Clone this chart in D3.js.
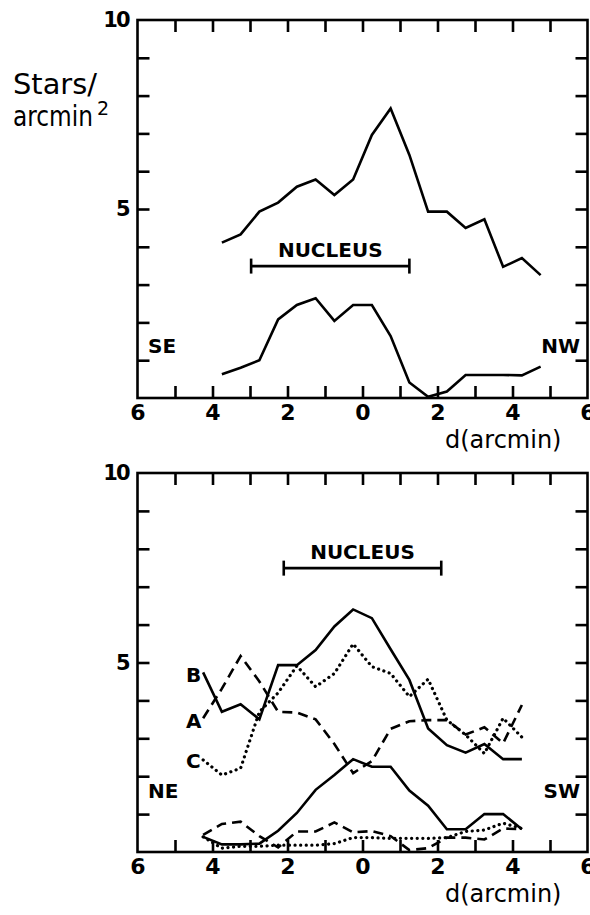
<!DOCTYPE html>
<html>
<head>
<meta charset="utf-8">
<script src="https://cdn.jsdelivr.net/npm/d3@7"></script>
<style>
  html, body { margin: 0; padding: 0; background: #fff; }
  svg { display: block; }
</style>
</head>
<body>
<svg id="chart" width="590" height="915"></svg>
<script>
// ---------------- DATA ----------------
// x tick labels (absolute distance from centre, arcmin)
const xTickValues = [-6, -4, -2, 0, 2, 4, 6];
const xTickLabels = ["6", "4", "2", "0", "2", "4", "6"];
const xMinorTicks = [-5, -4, -3, -2, -1, 0, 1, 2, 3, 4, 5];
const yTickValues = [1, 2, 3, 4, 5, 6, 7, 8, 9];
const yTickLabelValues = [5, 10];
const yTickLabels = ["5", "10"];

// Top panel (SE - NW cut)
const dTop = [-3.75, -3.25, -2.75, -2.25, -1.75, -1.25, -0.75, -0.25, 0.25, 0.75, 1.25, 1.75, 2.25, 2.75, 3.25, 3.75, 4.25, 4.75];
const topUpper = [4.11, 4.33, 4.93, 5.17, 5.59, 5.78, 5.37, 5.78, 6.96, 7.66, 6.43, 4.93, 4.93, 4.50, 4.73, 3.47, 3.70, 3.25];
const topLower = [0.63, 0.80, 1.00, 2.08, 2.46, 2.64, 2.04, 2.46, 2.46, 1.64, 0.41, 0.03, 0.17, 0.61, 0.61, 0.61, 0.60, 0.83];
const topNucleus = [-2.97, 1.25];
const topNucleusLevel = 3.49;

// Bottom panel (NE - SW cut), A dashed, B solid, C dotted
const dBottom = [-4.25, -3.75, -3.25, -2.75, -2.25, -1.75, -1.25, -0.75, -0.25, 0.25, 0.75, 1.25, 1.75, 2.25, 2.75, 3.25, 3.75, 4.25];
const bUpper = [4.74, 3.70, 3.90, 3.50, 4.93, 4.93, 5.33, 5.95, 6.40, 6.17, 5.35, 4.54, 3.26, 2.82, 2.62, 2.85, 2.45, 2.45];
const aUpper = [3.53, 4.31, 5.17, 4.50, 3.70, 3.68, 3.50, 2.85, 2.08, 2.40, 3.25, 3.45, 3.48, 3.48, 3.10, 3.29, 2.87, 3.88];
const cUpper = [2.43, 2.03, 2.21, 3.70, 4.20, 4.91, 4.36, 4.71, 5.49, 4.89, 4.71, 4.10, 4.56, 3.48, 3.09, 2.60, 3.53, 3.03];
const bLower = [0.40, 0.20, 0.20, 0.22, 0.56, 1.03, 1.64, 2.03, 2.45, 2.25, 2.25, 1.62, 1.22, 0.60, 0.60, 1.00, 1.00, 0.60];
const aLower = [0.45, 0.74, 0.80, 0.42, 0.12, 0.54, 0.54, 0.78, 0.52, 0.55, 0.42, 0.05, 0.10, 0.38, 0.38, 0.33, 0.62, 0.60];
const cLower = [0.40, 0.10, 0.15, 0.15, 0.18, 0.18, 0.18, 0.22, 0.38, 0.38, 0.36, 0.36, 0.36, 0.38, 0.54, 0.58, 0.76, 0.62];
const bottomNucleus = [-2.1, 2.1];
const bottomNucleusLevel = 7.49;

// ---------------- DRAWING ----------------
const svg = d3.select("#chart");
const BOLD = "'DejaVu Sans', sans-serif";
const LW = 2.6;

const x = d3.scaleLinear().domain([-6, 6]).range([137.5, 587.5]);

function panel(yTop, yBottom) {
  const y = d3.scaleLinear().domain([0, 10]).range([yBottom, yTop]);
  const g = svg.append("g");
  const tl = 12;
  // frame
  g.append("rect")
    .attr("x", x(-6)).attr("y", y(10))
    .attr("width", x(6) - x(-6)).attr("height", y(0) - y(10))
    .attr("fill", "none").attr("stroke", "#000").attr("stroke-width", LW);
  // inward ticks: bottom & top
  const bx = d3.axisTop(x).tickValues(xMinorTicks).tickSize(tl).tickFormat("");
  g.append("g").attr("transform", `translate(0,${y(0)})`).call(bx);
  const tx = d3.axisBottom(x).tickValues(xMinorTicks).tickSize(tl).tickFormat("");
  g.append("g").attr("transform", `translate(0,${y(10)})`).call(tx);
  // inward ticks: left & right
  const ly = d3.axisRight(y).tickValues(yTickValues).tickSize(tl).tickFormat("");
  g.append("g").attr("transform", `translate(${x(-6)},0)`).call(ly);
  const ry = d3.axisLeft(y).tickValues(yTickValues).tickSize(tl).tickFormat("");
  g.append("g").attr("transform", `translate(${x(6)},0)`).call(ry);
  g.selectAll(".domain").remove();
  g.selectAll(".tick line").attr("stroke", "#000").attr("stroke-width", LW);

  // x tick labels
  const xl = d3.axisBottom(x).tickValues(xTickValues).tickSize(0)
    .tickFormat((d, i) => xTickLabels[i]).tickPadding(0);
  const xg = g.append("g").attr("transform", `translate(0,${y(0)})`).call(xl);
  xg.select(".domain").remove();
  xg.selectAll("text").attr("dy", null).attr("y", 22)
    .attr("font-family", BOLD).attr("font-weight", "bold").attr("font-size", 22).attr("fill", "#000");

  // y tick labels
  const yl = d3.axisLeft(y).tickValues(yTickLabelValues).tickSize(0)
    .tickFormat((d, i) => yTickLabels[i]).tickPadding(9);
  const yg = g.append("g").attr("transform", `translate(${x(-6)},0)`).call(yl);
  yg.select(".domain").remove();
  yg.selectAll("text").attr("font-family", BOLD).attr("font-weight", "bold")
    .attr("font-size", 21).attr("fill", "#000").attr("letter-spacing", -2);

  // axis title
  g.append("text").attr("x", 445).attr("y", y(0) + 50)
    .attr("font-family", BOLD).attr("font-size", 24).attr("fill", "#000")
    .text("d(arcmin)");
  return { g, y };
}

function drawLine(g, y, xs, ys, style) {
  const line = d3.line().x((d, i) => x(xs[i])).y(d => y(d));
  const p = g.append("path").datum(ys).attr("d", line)
    .attr("fill", "none").attr("stroke", "#000").attr("stroke-width", LW)
    .attr("stroke-linejoin", "miter");
  if (style === "dash") p.attr("stroke-dasharray", "10,6");
  if (style === "dot") p.attr("stroke-dasharray", "0.1,5.5").attr("stroke-linecap", "round").attr("stroke-width", 3.2);
}

function nucleus(g, y, range, level) {
  const yy = y(level);
  g.append("line").attr("x1", x(range[0])).attr("x2", x(range[1]))
    .attr("y1", yy).attr("y2", yy).attr("stroke", "#000").attr("stroke-width", LW);
  range.forEach(v => g.append("line").attr("x1", x(v)).attr("x2", x(v))
    .attr("y1", yy - 7.5).attr("y2", yy + 7.5).attr("stroke", "#000").attr("stroke-width", LW));
  g.append("text").attr("x", (x(range[0]) + x(range[1])) / 2).attr("y", yy - 9)
    .attr("text-anchor", "middle").attr("font-family", BOLD).attr("font-weight", "bold")
    .attr("font-size", 20).attr("fill", "#000").text("NUCLEUS");
}

function label(g, xp, yp, txt, anchor) {
  g.append("text").attr("x", xp).attr("y", yp).attr("text-anchor", anchor || "start")
    .attr("font-family", BOLD).attr("font-weight", "bold").attr("font-size", 20)
    .attr("fill", "#000").text(txt);
}

// ---- top panel
const topPanel = panel(20, 398);
drawLine(topPanel.g, topPanel.y, dTop, topUpper, "solid");
drawLine(topPanel.g, topPanel.y, dTop, topLower, "solid");
nucleus(topPanel.g, topPanel.y, topNucleus, topNucleusLevel);
label(topPanel.g, 148, 353, "SE");
label(topPanel.g, 580, 353, "NW", "end");

// y title
svg.append("text").attr("x", 13).attr("y", 94).attr("font-family", BOLD).attr("font-size", 28)
  .attr("fill", "#000").attr("textLength", 84).attr("lengthAdjust", "spacingAndGlyphs").text("Stars/");
const yt2 = svg.append("text").attr("x", 13).attr("y", 126).attr("font-family", BOLD)
  .attr("font-size", 28).attr("fill", "#000");
yt2.append("tspan").attr("textLength", 80).attr("lengthAdjust", "spacingAndGlyphs").text("arcmin");
yt2.append("tspan").attr("dx", 4).attr("dy", -11).attr("font-size", 19).text("2");

// ---- bottom panel
const botPanel = panel(473, 852);
drawLine(botPanel.g, botPanel.y, dBottom, bUpper, "solid");
drawLine(botPanel.g, botPanel.y, dBottom, aUpper, "dash");
drawLine(botPanel.g, botPanel.y, dBottom, cUpper, "dot");
drawLine(botPanel.g, botPanel.y, dBottom, bLower, "solid");
drawLine(botPanel.g, botPanel.y, dBottom, aLower, "dash");
drawLine(botPanel.g, botPanel.y, dBottom, cLower, "dot");
nucleus(botPanel.g, botPanel.y, bottomNucleus, bottomNucleusLevel);
label(botPanel.g, 148, 798, "NE");
label(botPanel.g, 580, 798, "SW", "end");
label(botPanel.g, 186, 682, "B");
label(botPanel.g, 186, 728, "A");
label(botPanel.g, 186, 768, "C");
</script>
</body>
</html>
